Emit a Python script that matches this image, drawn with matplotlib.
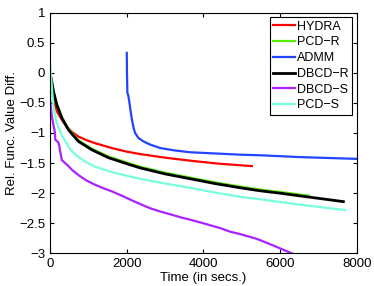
import numpy as np
import matplotlib
matplotlib.use('Agg')
import matplotlib.pyplot as plt

plt.rcParams['font.family'] = ['Liberation Sans', 'DejaVu Sans']

# curves (time in secs, rel. func. value diff.)
hydra_t = [20, 87, 175, 305, 440, 566, 740, 950, 1175, 1610, 2000, 2348, 3000, 3652, 4400, 5262]
hydra_y = [-0.15, -0.45, -0.64, -0.78, -0.9, -0.98, -1.06, -1.12, -1.17, -1.25, -1.31, -1.35, -1.41, -1.46, -1.51, -1.55]

pcdr_t = [30, 87, 175, 305, 480, 740, 1090, 1520, 2000, 2348, 3000, 3652, 4300, 4957, 5478, 6000, 6740]
pcdr_y = [-0.09, -0.3, -0.52, -0.74, -0.93, -1.12, -1.26, -1.39, -1.49, -1.56, -1.66, -1.74, -1.82, -1.89, -1.94, -1.98, -2.04]

admm_t = [2000, 2005, 2015, 2040, 2070, 2100, 2140, 2180, 2217, 2300, 2435, 2600, 2870, 3250, 3652, 4300, 4957, 5478, 6500, 8000]
admm_y = [0.33, 0.0, -0.33, -0.38, -0.5, -0.64, -0.8, -0.92, -1.0, -1.08, -1.14, -1.19, -1.25, -1.29, -1.32, -1.34, -1.36, -1.37, -1.4, -1.43]

dbcdr_t = [26, 87, 175, 305, 480, 740, 1090, 1520, 2000, 2348, 3000, 3652, 4300, 4957, 5478, 6000, 6700, 7650]
dbcdr_y = [-0.09, -0.31, -0.53, -0.75, -0.95, -1.14, -1.28, -1.41, -1.51, -1.58, -1.68, -1.76, -1.84, -1.91, -1.96, -2.0, -2.06, -2.14]

dbcds_t = [0, 44, 113, 125, 135, 218, 240, 261, 305, 392, 480, 566, 740, 950, 1175, 1400, 1610, 1900, 2100, 2348,
           2609, 2850, 3130, 3400, 3652, 4000, 4435, 4700, 4957, 5348, 5478, 5900, 6305]
dbcds_y = [-0.45, -0.73, -0.95, -1.0, -1.11, -1.16, -1.22, -1.3, -1.45, -1.5, -1.55, -1.61, -1.7, -1.79, -1.86, -1.92, -1.97, -2.05, -2.11, -2.18,
           -2.25, -2.3, -2.35, -2.4, -2.44, -2.5, -2.58, -2.64, -2.68, -2.75, -2.78, -2.89, -3.0]

pcds_t = [0, 44, 87, 175, 305, 392, 480, 566, 740, 950, 1175, 1610, 2000, 2348, 3000, 3652, 4300, 4957, 5478, 6500, 7700]
pcds_y = [0.13, -0.23, -0.56, -0.84, -1.04, -1.13, -1.23, -1.3, -1.4, -1.49, -1.56, -1.65, -1.71, -1.76, -1.84, -1.91, -1.99, -2.06, -2.1, -2.19, -2.28]

series = [
    ('HYDRA', hydra_t, hydra_y, '#ff0000', 1.6),
    ('PCD\u2212R', pcdr_t, pcdr_y, '#55ee00', 1.6),
    ('ADMM', admm_t, admm_y, '#2244ff', 1.6),
    ('DBCD\u2212R', dbcdr_t, dbcdr_y, '#000000', 2.0),
    ('DBCD\u2212S', dbcds_t, dbcds_y, '#aa22ff', 1.6),
    ('PCD\u2212S', pcds_t, pcds_y, '#77ffdd', 1.6),
]

fig = plt.figure(figsize=(3.74, 2.86), dpi=100)
ax = fig.add_axes([0.134, 0.114, 0.82, 0.842])

for name, t, y, c, lw in series:
    ax.plot(t, y, color=c, lw=lw, label=name)

ax.set_xlim(0, 8000)
ax.set_ylim(-3, 1)
ax.set_xticks(np.arange(0, 8001, 2000))
ax.set_yticks(np.arange(-3, 1.01, 0.5))
ax.set_yticklabels(['\u22123', '\u22122.5', '\u22122', '\u22121.5', '\u22121', '\u22120.5', '0', '0.5', '1'])
ax.tick_params(direction='in', labelsize=9.5, length=3, top=True, right=True)
for s in ax.spines.values():
    s.set_linewidth(0.8)
ax.set_xlabel('Time (in secs.)', fontsize=9.5, labelpad=1)
ax.set_ylabel('Rel. Func. Value Diff.', fontsize=9.5, labelpad=1)

leg = ax.legend(loc='upper right', fontsize=9, handlelength=1.7, handletextpad=0.2,
                borderpad=0.3, labelspacing=0.3, fancybox=False, framealpha=1,
                borderaxespad=0.35)
leg.get_frame().set_edgecolor('black')
leg.get_frame().set_linewidth(0.8)

fig.savefig('out.png', dpi=100)
